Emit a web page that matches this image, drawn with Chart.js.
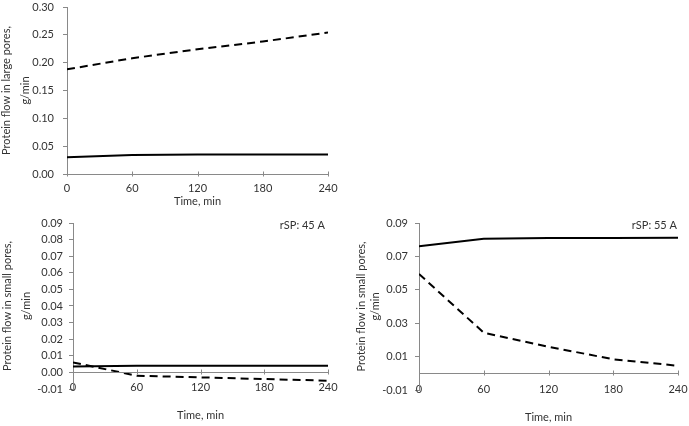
<!DOCTYPE html>
<html>
<head>
<meta charset="utf-8">
<script src="https://cdn.jsdelivr.net/npm/chart.js@4"></script>
<style>
  body { margin: 0; background: #fff; }
  #wrap { position: relative; width: 689px; height: 426px; overflow: hidden; }
  canvas { position: absolute; }
</style>
</head>
<body>
<div id="wrap">
  <canvas id="large" width="345" height="212" style="left:0;top:0"></canvas>
  <canvas id="small45" width="345" height="226" style="left:0;top:200px"></canvas>
  <canvas id="small55" width="344" height="226" style="left:345px;top:200px"></canvas>
</div>
<script>
// time points, min
const times = [0, 60, 120, 180, 240];
const xTicks = [0, 60, 120, 180, 240];

// large pores
const largeSolid = [0.030, 0.034, 0.035, 0.035, 0.035];
const largeDashed = [0.188, 0.208, 0.224, 0.238, 0.254];
const largeTicks = [0, 0.05, 0.10, 0.15, 0.20, 0.25, 0.30];

// small pores, rSP 45 A
const small45Solid = [0.0035, 0.004, 0.004, 0.004, 0.004];
const small45Dashed = [0.006, -0.002, -0.003, -0.004, -0.005];
const small45Ticks = [-0.01, 0, 0.01, 0.02, 0.03, 0.04, 0.05, 0.06, 0.07, 0.08, 0.09];

// small pores, rSP 55 A
const small55Solid = [0.076, 0.0805, 0.081, 0.081, 0.0812];
const small55Dashed = [0.0595, 0.0243, 0.0159, 0.0084, 0.0045];
const small55Ticks = [-0.01, 0.01, 0.03, 0.05, 0.07, 0.09];

const axisGrey = '#898989';
Chart.defaults.font.family = 'Lato';
Chart.defaults.font.size = 11;
Chart.defaults.color = '#333';

// x axis drawn at y = 0 with crossing tick marks
const zeroAxis = {
    id: 'zeroAxis',
    afterDatasetsDraw(chart) {
        const ctx = chart.ctx;
        const x = chart.scales.x, y = chart.scales.y;
        const y0 = Math.round(y.getPixelForValue(0)) + 0.5;
        ctx.save();
        ctx.strokeStyle = axisGrey;
        ctx.lineWidth = 1;
        ctx.beginPath();
        ctx.moveTo(chart.chartArea.left, y0);
        ctx.lineTo(chart.chartArea.right, y0);
        xTicks.forEach(t => {
            const px = Math.round(x.getPixelForValue(t)) + 0.5;
            ctx.moveTo(px, y0 - 3);
            ctx.lineTo(px, y0 + 2);
        });
        ctx.stroke();
        ctx.restore();
    }
};

const cornerLabel = {
    id: 'cornerLabel',
    afterDraw(chart, args, opts) {
        if (!opts.text) return;
        const ctx = chart.ctx;
        ctx.save();
        ctx.font = '11px Lato';
        ctx.fillStyle = '#333';
        ctx.textAlign = 'right';
        ctx.textBaseline = 'middle';
        ctx.fillText(opts.text, opts.x, opts.y);
        ctx.restore();
    }
};

function makeChart(id, cfg) {
    const pts = arr => times.map((t, i) => ({ x: t, y: arr[i] }));
    return new Chart(document.getElementById(id), {
        type: 'line',
        data: {
            datasets: [
                { data: pts(cfg.solid), borderColor: '#000', borderWidth: 2, pointRadius: 0, tension: 0 },
                { data: pts(cfg.dashed), borderColor: '#000', borderWidth: 2, borderDash: [8, 5], pointRadius: 0, tension: 0 }
            ]
        },
        options: {
            responsive: false,
            devicePixelRatio: 1,
            animation: false,
            layout: { padding: cfg.padding },
            plugins: {
                legend: { display: false },
                tooltip: { enabled: false },
                cornerLabel: cfg.corner || {}
            },
            scales: {
                x: {
                    type: 'linear',
                    min: 0, max: 240,
                    afterBuildTicks: s => { s.ticks = xTicks.map(v => ({ value: v })); },
                    afterFit: s => { s.height = cfg.xHeight; s.paddingLeft = 0; s.paddingRight = 0; },
                    border: { display: false },
                    grid: { display: false, drawTicks: false },
                    ticks: { padding: cfg.xPad, mirror: cfg.xMirror, maxRotation: 0, callback: v => v },
                    title: { display: true, text: 'Time, min', padding: { top: 0, bottom: cfg.xTitlePad } }
                },
                y: {
                    min: cfg.yTicks[0], max: cfg.yTicks[cfg.yTicks.length - 1],
                    afterBuildTicks: s => { s.ticks = cfg.yTicks.map(v => ({ value: v })); },
                    afterFit: s => { s.width = cfg.yWidth; s.paddingTop = 0; s.paddingBottom = 0; },
                    border: { display: true, color: axisGrey },
                    grid: { drawOnChartArea: false, tickLength: 4, color: axisGrey },
                    ticks: { padding: cfg.yPad, callback: v => v.toFixed(2) },
                    title: {
                        display: true,
                        text: cfg.yTitle,
                        font: { size: 11, lineHeight: cfg.yLine },
                        padding: { top: cfg.yTitlePad, bottom: 0 }
                    }
                }
            }
        },
        plugins: [zeroAxis, cornerLabel]
    });
}

makeChart('large', {
    solid: largeSolid, dashed: largeDashed, yTicks: largeTicks,
    padding: { top: 7, right: 17, left: 0, bottom: 0 },
    yWidth: 67, xHeight: 38, xPad: 8, xMirror: false, xTitlePad: 4, yPad: 9,
    yTitle: ['Protein flow in large pores,', 'g/min'], yLine: '19px', yTitlePad: -3
});

makeChart('small45', {
    solid: small45Solid, dashed: small45Dashed, yTicks: small45Ticks,
    padding: { top: 23, right: 17, left: 0, bottom: 0 },
    yWidth: 73, xHeight: 37, xPad: -5, xMirror: true, xTitlePad: 4, yPad: 6,
    yTitle: ['Protein flow in small pores,', 'g/min'], yLine: '19px', yTitlePad: -2,
    corner: { text: 'rSP: 45 A', x: 325, y: 25 }
});

makeChart('small55', {
    solid: small55Solid, dashed: small55Dashed, yTicks: small55Ticks,
    padding: { top: 23, right: 11, left: 0, bottom: 0 },
    yWidth: 74, xHeight: 36, xPad: -6, xMirror: true, xTitlePad: 2, yPad: 7,
    yTitle: ['Protein flow in small pores,', 'g/min'], yLine: '14px', yTitlePad: 9,
    corner: { text: 'rSP: 55 A', x: 332, y: 25 }
});
</script>
</body>
</html>
